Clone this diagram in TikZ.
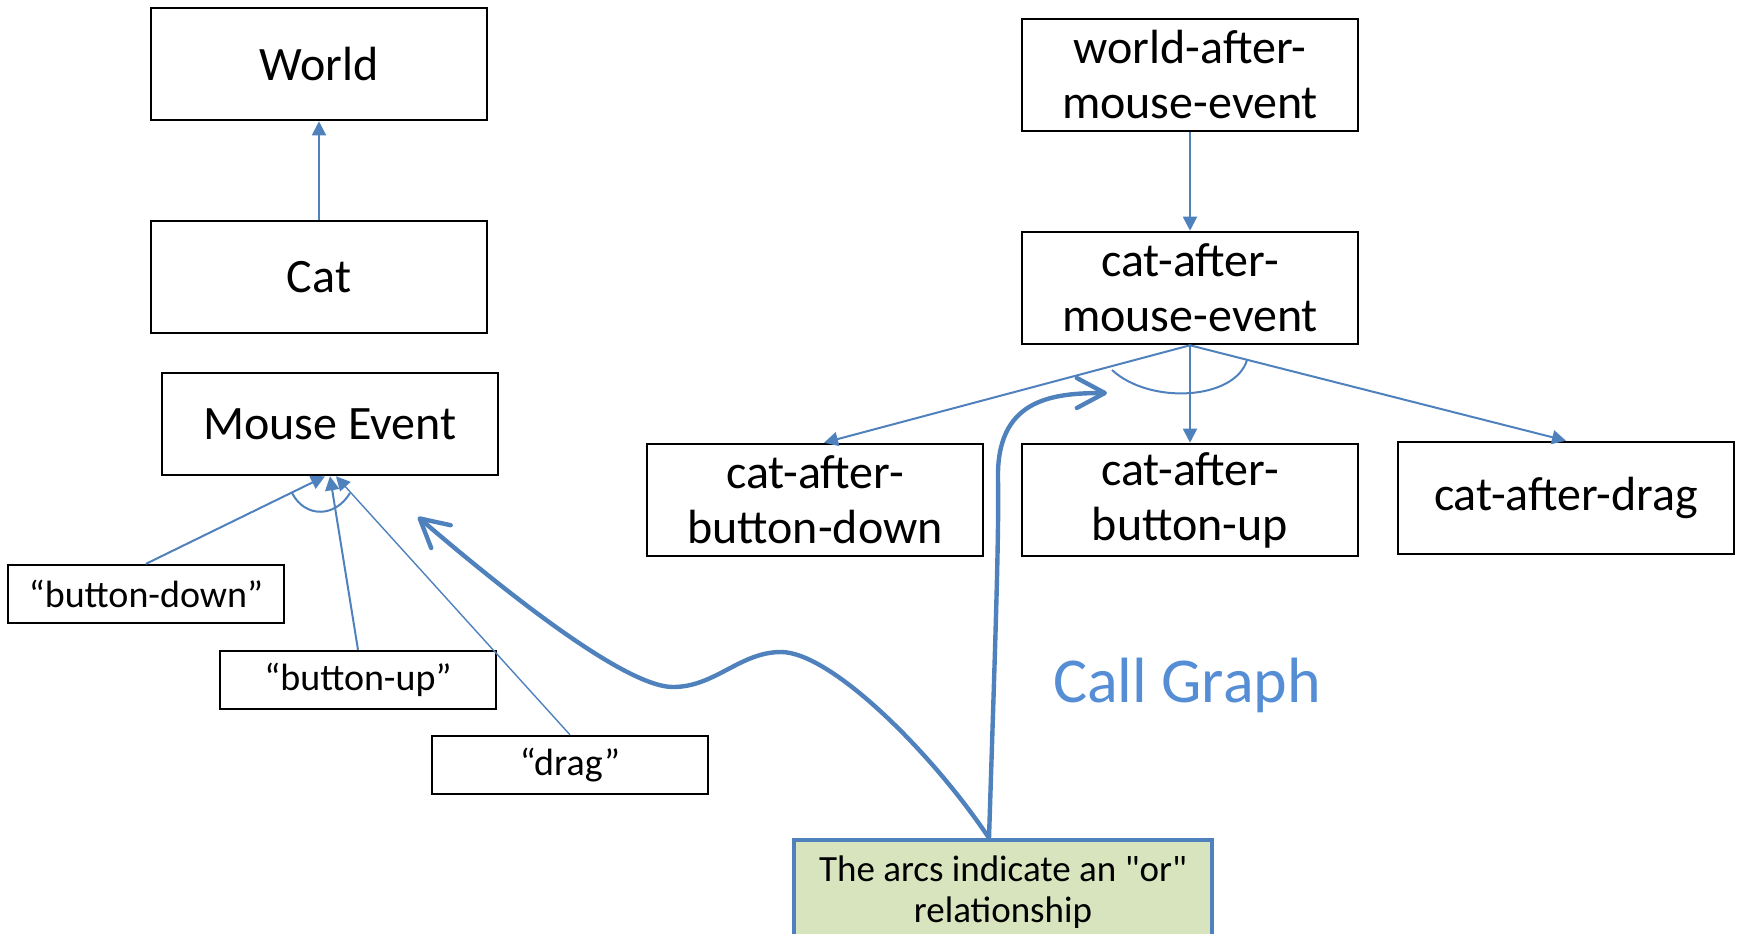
\documentclass[tikz,border=0pt]{standalone}
\usepackage{fontspec}
\setmainfont{Carlito}
\usepackage{tikz}
\usetikzlibrary{arrows.meta}
\definecolor{blueline}{HTML}{4F81BD}
\definecolor{bluetext}{HTML}{558ED5}
\definecolor{greennote}{HTML}{D7E4BD}

\begin{document}
\begin{tikzpicture}[x=0.5pt,y=-0.5pt,
  box/.style={draw=black,line width=1.3pt,minimum width=168pt,minimum height=56pt,inner sep=0pt,align=center,font=\fontsize{24}{27.5}\selectfont},
  tag/.style={draw=black,line width=1.2pt,minimum width=138pt,minimum height=29pt,inner sep=0pt,font=\fontsize{19}{21}\selectfont},
  link/.style={blueline,line width=1pt,-{Triangle[length=7pt,width=7pt]}},
  orarc/.style={blueline,line width=1pt},
  remark/.style={blueline,line width=2.2pt,line cap=round,-{Straight Barb[length=14pt,width=15pt,round]}}]
\useasboundingbox (0,0) rectangle (1739,933);
\clip (0,0) rectangle (1739,933);
% data types
\node[box] (world) at (319,64) {World};
\node[box] (cat) at (319,277) {Cat};
\node[box,minimum height=51pt] (mouse) at (330,424) {Mouse Event};
\node[tag] (bdown) at (146,594) {“button-down”};
\node[tag] (bup) at (358,680) {“button-up”};
\node[tag] (bdrag) at (570,765) {“drag”};
\draw[link] (cat) -- (world);
\draw[link] (bdown.north) -- ([xshift=-2.5pt]mouse.south);
\draw[link] (bup.north) -- (mouse.south);
\draw[link,line width=0.7pt] (bdrag.north) -- ([xshift=3pt]mouse.south);
\draw[orarc] (292,493) .. controls (305,518) and (335,518) .. (350,493);
% call graph
\node[box] (wame) at (1190,75) {world-after-\\mouse-event};
\node[box] (came) at (1190,288) {cat-after-\\mouse-event};
\node[box] (cabd) at (815,500) {cat-after-\\button-down};
\node[box] (cabu) at (1190,500) {cat-after-\\button-up};
\node[box] (cad) at (1566,498) {cat-after-drag};
\draw[link] (wame) -- (came);
\draw[link] (came.south) -- ([xshift=4.5pt]cabd.north);
\draw[link] (came.south) -- (cabu.north);
\draw[link] (came.south) -- (cad.north);
\draw[orarc] (1112,370) .. controls (1150,405) and (1235,400) .. (1247,360);
\node[anchor=base,text=bluetext,font=\fontsize{32}{38}\selectfont] (title) at (1187,702) {Call Graph};
% note on the arcs
\node[draw=blueline,line width=2pt,fill=greennote,minimum width=209pt,minimum height=52pt,align=center,anchor=north,font=\fontsize{18.5}{20.5}\selectfont] (note) at (1003,838) {The arcs indicate an \textquotedbl or\textquotedbl\\relationship};
\coordinate (orfoot) at ([xshift=-7pt]note.north);
\coordinate (lefttip) at (418,517);
\coordinate (righttip) at (1107,393);
\draw[remark] (orfoot) .. controls (930,750) and (830,652) .. (781,652) .. controls (740,652) and (715,687) .. (673,687) .. controls (620,687) and (480,570) .. (lefttip);
\draw[remark] (orfoot) .. controls (995,650) and (999,540) .. (998,480) .. controls (996,400) and (1050,393) .. (righttip);
\end{tikzpicture}
\end{document}
